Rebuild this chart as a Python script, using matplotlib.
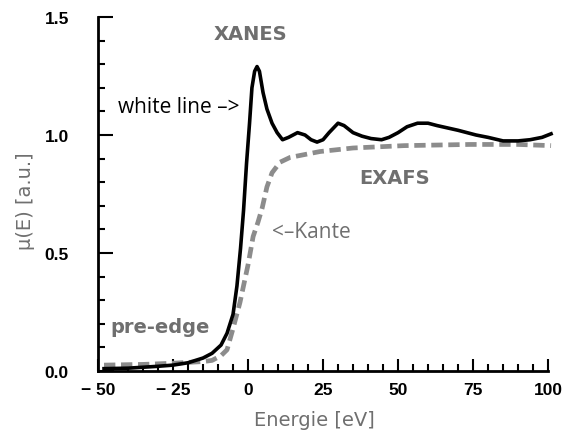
import matplotlib
matplotlib.use("Agg")
import matplotlib.pyplot as plt
from matplotlib.ticker import MultipleLocator

# mu(E) measured absorption (black line)
mu_energy = [-48, -40, -30, -25, -20, -15, -12, -9, -7, -5, -3.7, -2.5, -1.5,
             -0.5, 0.5, 1.3, 2.2, 3, 3.8, 5, 6.3, 8, 9.7, 11.5, 13.5, 16.5,
             19, 21, 23, 25, 27, 30, 32, 35, 38, 41, 44.5, 47, 50, 53, 56.5,
             60, 63, 70, 76, 80, 85, 90, 94, 98, 101]
mu_value = [0.01, 0.012, 0.02, 0.025, 0.035, 0.055, 0.075, 0.11, 0.16, 0.24,
            0.36, 0.52, 0.68, 0.88, 1.05, 1.20, 1.27, 1.29, 1.27, 1.18, 1.11,
            1.05, 1.01, 0.98, 0.99, 1.01, 1.0, 0.98, 0.97, 0.98, 1.01, 1.05,
            1.04, 1.01, 0.995, 0.985, 0.98, 0.99, 1.01, 1.035, 1.05, 1.05,
            1.04, 1.02, 1.00, 0.99, 0.975, 0.975, 0.98, 0.99, 1.005]

# atomic background (grey dashed line)
bg_energy = [-48, -35, -25, -15, -12, -9, -7, -5, -2.7, 0, 1.7, 3.3, 4.7,
             6.3, 8, 10.7, 14, 18, 24, 35, 52, 74, 90, 101]
bg_value = [0.025, 0.028, 0.033, 0.04, 0.045, 0.065, 0.09, 0.18, 0.29, 0.45,
            0.57, 0.63, 0.69, 0.78, 0.84, 0.885, 0.905, 0.915, 0.93, 0.945,
            0.955, 0.96, 0.96, 0.955]

x_ticks = [-50, -25, 0, 25, 50, 75, 100]
x_ticklabels = ['\u2212 50', '\u2212 25', '0', '25', '50', '75', '100']
y_ticks = [0.0, 0.5, 1.0, 1.5]
y_ticklabels = ['0.0', '0.5', '1.0', '1.5']

grey = '#6f6f6f'

fig = plt.figure(figsize=(5.65, 4.35), dpi=100)
ax = fig.add_axes([0.1735, 0.1448, 0.7965, 0.8138])

ax.plot(bg_energy, bg_value, color='#8c8c8c', lw=3.4, ls=(0, (2.4, 1.2)),
        clip_on=False, solid_capstyle='butt')
ax.plot(mu_energy, mu_value, color='black', lw=2.6, clip_on=False)

ax.set_xlim(-50, 100)
ax.set_ylim(0, 1.5)
for s in ['top', 'right']:
    ax.spines[s].set_visible(False)
for s in ['left', 'bottom']:
    ax.spines[s].set_linewidth(2.0)

ax.set_xticks(x_ticks)
ax.set_xticklabels(x_ticklabels)
ax.set_yticks(y_ticks)
ax.set_yticklabels(y_ticklabels)
ax.xaxis.set_minor_locator(MultipleLocator(5))
ax.yaxis.set_minor_locator(MultipleLocator(0.1))
ax.tick_params(axis='x', which='major', direction='in', length=9, width=1.5, pad=8)
ax.tick_params(axis='x', which='minor', direction='in', length=5, width=1.5)
ax.tick_params(axis='y', which='major', direction='in', length=11, width=1.5, pad=21)
ax.tick_params(axis='y', which='minor', direction='in', length=5, width=1.5)
for lab in ax.get_xticklabels() + ax.get_yticklabels():
    lab.set_fontfamily('Liberation Sans')
    lab.set_fontweight('bold')
    lab.set_fontsize(12.5)

ax.set_xlabel('Energie [eV]', fontsize=14, color=grey, family='DejaVu Sans')
ax.xaxis.set_label_coords(0.48, -0.11)
ax.set_ylabel('\u03bc(E) [a.u.]', fontsize=14, color=grey, family='DejaVu Sans')
ax.yaxis.set_label_coords(-0.14, 0.483)

ax.text(0.7, 1.43, 'XANES', color=grey, fontsize=14, fontweight='bold',
        ha='center', va='center', family='DejaVu Sans')
ax.text(49, 0.82, 'EXAFS', color=grey, fontsize=14, fontweight='bold',
        ha='center', va='center', family='DejaVu Sans')
ax.text(-46, 0.19, 'pre-edge', color=grey, fontsize=14, fontweight='bold',
        ha='left', va='center', family='DejaVu Sans')
ax.text(-2.7, 1.12, 'white line \u2013>', color='black', fontsize=15,
        ha='right', va='center', family='Open Sans')
ax.text(8, 0.59, '<\u2013Kante', color=grey, fontsize=15,
        ha='left', va='center', family='Open Sans')

fig.savefig('out.png', dpi=100)
